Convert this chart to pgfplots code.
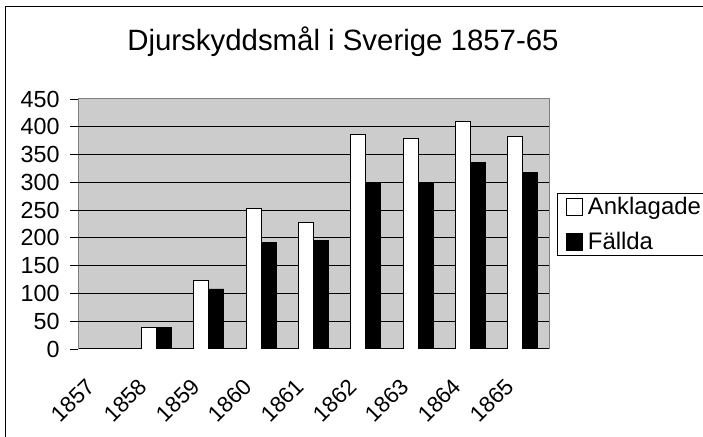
\documentclass[border=0pt]{standalone}
\usepackage{fontspec}
\setmainfont{Liberation Sans}
\usepackage{pgfplots}
\pgfplotsset{compat=1.18}
\definecolor{plotbg}{RGB}{204,204,204}
\definecolor{bordergray}{RGB}{128,128,128}
\newcommand{\xlabfont}{\fontsize{22.5}{26}\selectfont}
\begin{document}
\begin{tikzpicture}[x=1bp,y=1bp]
\path[use as bounding box] (0,0) rectangle (703,437);
\clip (0,0) rectangle (703,437);
\fill[white] (0,0) rectangle (703,437);
\draw[black, line width=1bp] (5,-10) -- (5,430) -- (720,430);
\node[anchor=base, inner sep=0pt, font=\fontsize{29.5}{32}\selectfont] at (343,386) {Djurskyddsmål i Sverige 1857-65};
\begin{axis}[
  at={(78bp,88bp)}, anchor=south west,
  width=471bp, height=250bp, scale only axis,
  xmin=-0.5, xmax=8.5, ymin=0, ymax=450,
  enlargelimits=false,
  ybar=0pt, bar width=15bp,
  axis x line*=bottom, axis y line*=left,
  x axis line style={black, line width=1bp},
  y axis line style={bordergray, line width=1bp},
  axis background/.style={fill=plotbg, draw=bordergray, line width=1bp},
  tick align=outside,
  major tick length=8bp,
  tick style={black, line width=0.8bp},
  xtick={0,...,8},
  xticklabels={1857,1858,1859,1860,1861,1862,1863,1864,1865},
  xtick style={draw=none},
  extra x ticks={-0.5,0.5,...,8.5},
  extra x tick labels={},
  extra x tick style={tick style={black, line width=0.8bp}},
  ytick={0,50,...,450},
  extra y ticks={50,100,...,400},
  extra y tick labels={},
  extra y tick style={grid=major, major grid style={black, line width=0.8bp}},
  /pgf/number format/assume math mode=true,
  yticklabel style={font=\fontsize{23.4}{26}\selectfont, xshift=-7bp},
  xticklabel style={font=\xlabfont, xshift=-19bp, yshift=-20bp, rotate=45, anchor=north east, inner sep=0pt},
  legend style={at={(1.0164,0.624)}, anchor=north west, draw=black, line width=0.8bp, fill=white,
    font=\fontsize{24}{27}\selectfont, inner sep=2bp, row sep=12bp},
  legend cell align=left,
]
\addplot[fill=white, draw=black, line width=0.8bp,
  legend image code/.code={\path (0bp,0bp) (26bp,0bp); \draw[fill=white, draw=black, line width=0.8bp] (6.5bp,-8.5bp) rectangle (23bp,8.5bp);}]
  coordinates {(1,39) (2,123) (3,253) (4,228) (5,386) (6,379) (7,410) (8,382)};
\addplot[fill=black, draw=black, line width=0.8bp,
  legend image code/.code={\path (0bp,0bp) (26bp,0bp); \draw[fill=black, draw=black, line width=0.8bp] (6.5bp,-8.5bp) rectangle (23bp,8.5bp);}]
  coordinates {(1,38) (2,108) (3,191) (4,195) (5,298) (6,300) (7,335) (8,317)};
\legend{Anklagade, Fällda}
\end{axis}
\end{tikzpicture}
\end{document}
